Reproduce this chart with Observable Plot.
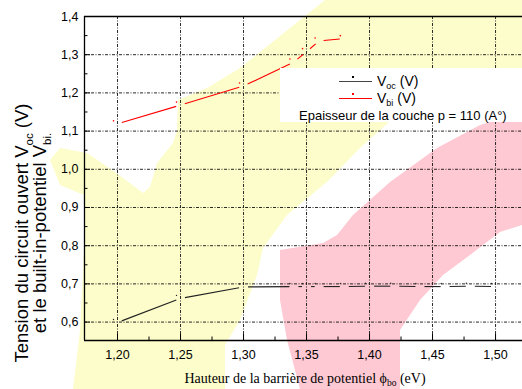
<!DOCTYPE html>
<html>
<head>
<meta charset="utf-8">
<script src="https://cdn.jsdelivr.net/npm/d3@7"></script>
<script src="https://cdn.jsdelivr.net/npm/@observablehq/plot@0.6"></script>
<style>
  html, body { margin: 0; padding: 0; background: #fff; }
  #wrap { position: relative; width: 522px; height: 389px; overflow: hidden; font-family: "Liberation Sans", Arial, sans-serif; }
  .bg { position: absolute; left: 0; top: 0; width: 522px; height: 389px; }
  #yellow { background: #fdfdcb; clip-path: polygon(325px 0, 522px 0, 522px 85px, 470px 100px, 397px 115px, 360px 148px, 327px 182px, 287px 215px, 263px 248px, 257px 275px, 240px 320px, 225px 345px, 225px 389px, 73px 389px, 80px 330px, 84px 250px, 84px 195px, 60px 185px, 50px 160px, 60px 148px, 87px 153px, 115px 172px, 143px 193px, 150px 187px, 157px 163px, 173px 143px, 177px 130px, 178px 100px, 207px 88px, 240px 68px, 300px 20px); }
  #pink { background: #ffc9d3; clip-path: polygon(280px 250px, 323px 243px, 337px 235px, 353px 215px, 390px 182px, 437px 148px, 480px 125px, 522px 112px, 522px 225px, 500px 232px, 470px 255px, 443px 275px, 420px 300px, 400px 330px, 400px 389px, 300px 389px, 287px 340px, 280px 300px); }
  #chart { position: absolute; left: 0; top: 0; }
  #legend { position: absolute; left: 280px; top: 68px; width: 242px; height: 54px; background: #fff; }
  #legend .ln { position: absolute; left: 59px; width: 33px; height: 0; }
  #legend .mk { position: absolute; left: 72px; width: 1.5px; height: 1.5px; }
  #legend .tx { position: absolute; left: 97px; font-size: 14px; line-height: 1; white-space: nowrap; }
  #legend sub { font-size: 9px; vertical-align: -3px; line-height: 0; }
  #legend .ep { position: absolute; left: 19px; top: 41px; font-size: 13px; line-height: 1; white-space: nowrap; }
</style>
</head>
<body>
<div id="wrap">
  <div class="bg" id="yellow"></div>
  <div class="bg" id="pink"></div>
  <div id="chart"></div>
  <div id="legend">
    <div class="ln" style="top:13px;border-top:1.3px solid #444"></div>
    <div class="mk" style="top:8px;background:#000"></div>
    <div class="tx" style="top:6px">V<sub>oc</sub> (V)</div>
    <div class="ln" style="top:30px;border-top:1.3px solid #f00"></div>
    <div class="mk" style="top:25px;background:#f00"></div>
    <div class="tx" style="top:23px">V<sub>bi</sub> (V)</div>
    <div class="ep">Epaisseur de la couche p = 110 (A°)</div>
  </div>
</div>
<script>
// ---- data ----
const vbiX = [1.20, 1.25, 1.30, 1.34, 1.35, 1.36, 1.38];
const vbiY = [1.119, 1.168, 1.218, 1.281, 1.308, 1.336, 1.342];
const vocX = [1.20, 1.25, 1.30, 1.34, 1.35, 1.36, 1.38, 1.40, 1.42, 1.44, 1.46, 1.48, 1.50];
const vocY = [0.599, 0.662, 0.692, 0.693, 0.693, 0.693, 0.693, 0.694, 0.694, 0.693, 0.693, 0.694, 0.693];
const xTicks = [1.20, 1.25, 1.30, 1.35, 1.40, 1.45, 1.50];
const xTickLabels = ["1,20", "1,25", "1,30", "1,35", "1,40", "1,45", "1,50"];
const xMinor = [1.225, 1.275, 1.325, 1.375, 1.425, 1.475];
const yTicks = [0.6, 0.7, 0.8, 0.9, 1.0, 1.1, 1.2, 1.3, 1.4];
const yTickLabels = ["0,6", "0,7", "0,8", "0,9", "1,0", "1,1", "1,2", "1,3", "1,4"];
const yMinor = [0.65, 0.75, 0.85, 0.95, 1.05, 1.15, 1.25, 1.35];
const xDomain = [1.1738, 1.5214];
const yDomain = [0.5518, 1.4];

// ---- layout ----
const W = 522, H = 389, mL = 84, mT = 16, mB = 49, mR = 0;
const kx = (W - mL - mR) / (xDomain[1] - xDomain[0]);
const ky = (H - mT - mB) / (yDomain[1] - yDomain[0]);

function gapSegments(xs, ys, g) {
  const out = [];
  for (let i = 0; i < xs.length - 1; i++) {
    const dx = xs[i + 1] - xs[i], dy = ys[i + 1] - ys[i];
    const L = Math.hypot(dx * kx, dy * ky);
    if (L <= 2 * g + 0.5) continue;
    const t = g / L;
    out.push({x1: xs[i] + dx * t, y1: ys[i] + dy * t, x2: xs[i + 1] - dx * t, y2: ys[i + 1] - dy * t});
  }
  return out;
}
const vbi = vbiX.map((x, i) => ({x, y: vbiY[i]}));
const voc = vocX.map((x, i) => ({x, y: vocY[i]}));
const vbiSegs = gapSegments(vbiX, vbiY, 4.5);
const vocSegs = gapSegments(vocX, vocY, 4.5);
const xLab = new Map(xTicks.map((d, i) => [d, xTickLabels[i]]));
const yLab = new Map(yTicks.map((d, i) => [d, yTickLabels[i]]));
const tick = (len, k) => len / k;

const grid = {stroke: "#111", strokeWidth: 0.9, strokeDasharray: "3,1.5,1,1.5"};

const plot = Plot.plot({
  width: W, height: H,
  marginLeft: mL, marginTop: mT, marginBottom: mB, marginRight: mR,
  style: {background: "transparent", fontFamily: "'Liberation Sans', Arial, sans-serif", overflow: "visible"},
  x: {domain: xDomain},
  y: {domain: yDomain},
  marks: [
    Plot.ruleX(xTicks, {...grid}),
    Plot.ruleY(yTicks.filter(d => d < 1.4), {...grid}),
    // inward tick marks
    Plot.ruleX(xTicks, {y1: yDomain[0], y2: yDomain[0] + tick(6, ky), stroke: "#000"}),
    Plot.ruleX(xMinor, {y1: yDomain[0], y2: yDomain[0] + tick(3.5, ky), stroke: "#000"}),
    Plot.ruleY(yTicks, {x1: xDomain[0], x2: xDomain[0] + tick(6, kx), stroke: "#000"}),
    Plot.ruleY(yMinor, {x1: xDomain[0], x2: xDomain[0] + tick(3.5, kx), stroke: "#000"}),
    // frame (left, top, bottom)
    Plot.ruleX([xDomain[0]], {stroke: "#000", strokeWidth: 1.3}),
    Plot.ruleY([yDomain[0], yDomain[1]], {stroke: "#000", strokeWidth: 1.3}),
    // series
    Plot.link(vocSegs, {x1: "x1", y1: "y1", x2: "x2", y2: "y2", stroke: "#222", strokeWidth: 1.1}),
    Plot.dot(voc, {x: "x", y: "y", r: 0.7, fill: "#222", stroke: null, dx: -4, dy: -3}),
    Plot.link(vbiSegs, {x1: "x1", y1: "y1", x2: "x2", y2: "y2", stroke: "#f00", strokeWidth: 1.1}),
    Plot.dot(vbi, {x: "x", y: "y", r: 0.8, fill: "#f00", stroke: null, dx: -4, dy: -3}),
    Plot.axisX(xTicks, {tickSize: 0, tickPadding: 10, tickFormat: d => xLab.get(d), fontSize: 12.5, label: null, fill: "#000"}),
    Plot.axisY(yTicks, {tickSize: 0, tickPadding: 6, tickFormat: d => yLab.get(d), fontSize: 12.5, label: null, fill: "#000"})
  ]
});
document.getElementById("chart").appendChild(plot);

// axis titles with subscripts
const svg = d3.select(plot);
const xt = svg.append("text")
  .attr("x", 305).attr("y", 383)
  .attr("text-anchor", "middle")
  .attr("font-family", "'Liberation Serif', 'Times New Roman', serif")
  .attr("font-size", 14).attr("fill", "#000");
xt.append("tspan").text("Hauteur de la barrière de potentiel ϕ");
xt.append("tspan").attr("font-size", 9.5).attr("dy", 3).text("bo");
xt.append("tspan").attr("dy", -3).text(" (eV)");

function yTitle(xb, main, sub, tail) {
  const t = svg.append("text")
    .attr("transform", `translate(${xb},233) rotate(-90)`)
    .attr("text-anchor", "middle")
    .attr("font-family", "'Liberation Sans', Arial, sans-serif")
    .attr("font-size", 18.5).attr("fill", "#000");
  t.append("tspan").text(main);
  t.append("tspan").attr("font-size", 11.5).attr("dy", 5).text(sub);
  if (tail) t.append("tspan").attr("dy", -5).text(tail);
}
yTitle(28, "Tension du circuit ouvert V", "oc", " (V)");
yTitle(46, "et le built-in-potentiel V", "bi.", null);
</script>
</body>
</html>
